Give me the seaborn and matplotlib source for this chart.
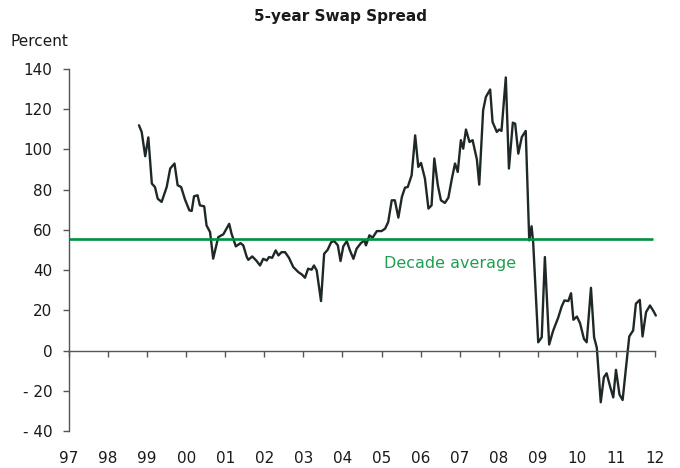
import pandas as pd
import seaborn as sns
import matplotlib.pyplot as plt

# === Data (decimal years, spread in percent) ===
years = [1998.79, 1998.86, 1998.95, 1999.03, 1999.12, 1999.20, 1999.27, 1999.37, 1999.50, 1999.59,
         1999.70, 1999.78, 1999.87, 1999.97, 2000.08, 2000.14, 2000.20, 2000.29, 2000.35, 2000.46,
         2000.52, 2000.61, 2000.69, 2000.76, 2000.82, 2000.95, 2001.10, 2001.16, 2001.27, 2001.39,
         2001.46, 2001.55, 2001.59, 2001.69, 2001.79, 2001.89, 2001.97, 2002.06, 2002.12, 2002.20,
         2002.29, 2002.36, 2002.44, 2002.53, 2002.63, 2002.74, 2002.87, 2002.96, 2003.04, 2003.12,
         2003.21, 2003.27, 2003.34, 2003.45, 2003.53, 2003.62, 2003.71, 2003.79, 2003.88, 2003.95,
         2004.02, 2004.11, 2004.19, 2004.28, 2004.36, 2004.47, 2004.56, 2004.60, 2004.69, 2004.77,
         2004.88, 2005.00, 2005.09, 2005.17, 2005.26, 2005.34, 2005.43, 2005.52, 2005.60, 2005.67,
         2005.77, 2005.86, 2005.94, 2006.01, 2006.11, 2006.20, 2006.28, 2006.35, 2006.44, 2006.52,
         2006.62, 2006.71, 2006.80, 2006.88, 2006.95, 2007.03, 2007.09, 2007.16, 2007.25, 2007.33,
         2007.44, 2007.50, 2007.60, 2007.67, 2007.78, 2007.84, 2007.95, 2008.01, 2008.07, 2008.18,
         2008.26, 2008.36, 2008.42, 2008.50, 2008.59, 2008.69, 2008.78, 2008.84, 2008.88, 2009.01,
         2009.10, 2009.18, 2009.29, 2009.38, 2009.41, 2009.52, 2009.61, 2009.68, 2009.78, 2009.85,
         2009.91, 2010.00, 2010.08, 2010.18, 2010.25, 2010.36, 2010.44, 2010.51, 2010.61, 2010.69,
         2010.76, 2010.85, 2010.93, 2011.00, 2011.09, 2011.17, 2011.27, 2011.34, 2011.44, 2011.51,
         2011.61, 2011.68, 2011.77, 2011.87, 2011.96, 2012.02]
spread = [112.0, 108.7, 96.6, 106.0, 83.0, 81.3, 75.5, 73.9, 81.3, 90.5,
          93.0, 82.2, 81.3, 75.0, 69.7, 69.4, 76.7, 77.2, 72.2, 71.7,
          62.2, 58.9, 45.7, 51.4, 56.4, 57.8, 63.0, 58.1, 51.8, 53.4,
          52.3, 46.5, 45.1, 46.8, 44.8, 42.3, 45.6, 44.8, 46.5, 46.1,
          49.8, 47.3, 48.9, 48.9, 46.1, 41.5, 39.0, 37.8, 36.2, 40.7,
          40.2, 42.3, 39.8, 24.6, 48.1, 50.1, 53.9, 54.4, 52.3, 44.5,
          51.8, 54.4, 49.8, 45.6, 50.6, 53.4, 54.8, 52.3, 57.3, 56.1,
          59.4, 59.4, 60.6, 63.9, 74.7, 74.7, 66.1, 76.4, 81.0, 81.3,
          87.2, 107.0, 91.3, 93.3, 85.5, 70.6, 72.2, 95.5, 82.2, 74.7,
          73.4, 76.0, 85.5, 93.0, 88.8, 104.6, 100.4, 109.9, 103.7, 104.6,
          95.0, 82.5, 119.5, 126.1, 129.8, 113.7, 108.7, 109.9, 109.2, 135.8,
          90.5, 113.3, 112.8, 97.9, 106.2, 109.2, 54.8, 61.8, 54.0, 4.1,
          6.6, 46.5, 3.0, 9.1, 10.8, 16.3, 21.9, 24.9, 24.6, 28.5,
          15.3, 16.9, 13.6, 5.8, 4.1, 31.2, 6.6, 1.3, -25.7, -13.3,
          -11.3, -17.9, -23.3, -9.6, -21.9, -24.6, -5.8, 7.0, 10.0, 23.3,
          25.2, 7.0, 19.1, 22.4, 19.6, 17.4]
decade_avg = 55.3
year_ticks = list(range(1997, 2013))
year_labels = [f"{y % 100:02d}" for y in year_ticks]
y_ticks = [-40, -20, 0, 20, 40, 60, 80, 100, 120, 140]
y_labels = ["- 40", "- 20", "0", "20", "40", "60", "80", "100", "120", "140"]

df = pd.DataFrame({"Year": years, "Spread": spread})

sns.set_style("white")
plt.rcParams["font.family"] = ["DejaVu Sans"]

fig = plt.figure(figsize=(6.8, 4.68), dpi=100)
ax = fig.add_axes([0.1015, 0.0791, 0.8618, 0.7735])

sns.lineplot(data=df, x="Year", y="Spread", ax=ax, color="#1f2828", linewidth=1.7)
for line in ax.get_lines():
    line.set_clip_on(False)
ax.hlines(decade_avg, 1997, 2011.95, color="#009040", linewidth=1.9)
ax.text(2006.75, 43.3, "Decade average", color="#1f9e52", fontsize=11.5,
        ha="center", va="center")

# === Axes styling ===
ax.set_xlim(1997, 2012)
ax.set_ylim(-40, 140)
ax.set_xticks(year_ticks)
ax.set_xticklabels(year_labels)
ax.set_yticks(y_ticks)
ax.set_yticklabels(y_labels)
ax.set_xlabel("")
ax.set_ylabel("")

ax.spines["top"].set_visible(False)
ax.spines["right"].set_visible(False)
ax.spines["bottom"].set_position(("data", 0))
for side in ["left", "bottom"]:
    ax.spines[side].set_color("#555555")
    ax.spines[side].set_linewidth(1.0)

ax.tick_params(axis="y", direction="out", length=4, width=1, color="#555555",
               labelsize=11, labelcolor="#1a1a1a", pad=8, left=True)
ax.tick_params(axis="x", direction="out", length=4, width=1, color="#555555",
               labelsize=11, labelcolor="#1a1a1a", pad=68, bottom=True)

fig.text(0.5, 1 - 17 / 468, "5-year Swap Spread", ha="center", va="center",
         fontsize=11, fontweight="bold", color="#1a1a1a")
fig.text(10 / 680, 1 - 41 / 468, "Percent", ha="left", va="center",
         fontsize=11, color="#1a1a1a")

plt.savefig("out.png", dpi=100)
